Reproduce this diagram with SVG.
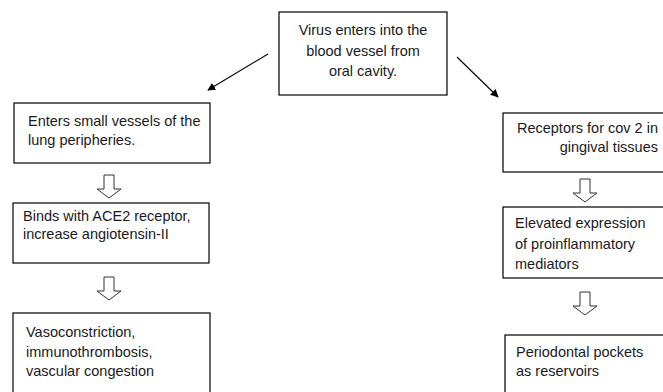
<svg xmlns="http://www.w3.org/2000/svg" width="663" height="392" viewBox="0 0 663 392">
<defs>
<style>
.box{fill:#fff;stroke:#000;stroke-width:1.2}
.t{font-family:"Liberation Sans",Arial,sans-serif;font-size:14.5px;fill:#1a1a22}
.c{text-anchor:middle}
.e{text-anchor:end}
.ln{stroke:#000;stroke-width:1.1;fill:none}
.ha{fill:#fff;stroke:#333;stroke-width:1}
</style>
<marker id="ah" viewBox="0 0 10 10" refX="9" refY="5" markerWidth="8" markerHeight="8" markerUnits="userSpaceOnUse" orient="auto"><path d="M0,0 L10,5 L0,10 z" fill="#000"/></marker>
<path id="hollow" d="M-5,0 L5,0 L5,14 L12,14 L0,23 L-12,14 L-5,14 Z"/>
</defs>
<rect width="663" height="392" fill="#fff"/>
<g id="connectors">
<line class="ln" x1="268" y1="54" x2="208" y2="90" marker-end="url(#ah)"/>
<line class="ln" x1="457" y1="57" x2="498" y2="97" marker-end="url(#ah)"/>
<use href="#hollow" class="ha" x="109" y="175"/>
<use href="#hollow" class="ha" x="109" y="277"/>
<use href="#hollow" class="ha" x="585" y="179"/>
<use href="#hollow" class="ha" x="585" y="292"/>
</g>
<g id="n_top">
<rect class="box" x="279" y="12" width="168" height="83"/>
<text class="t c" x="363" y="35">Virus enters into the</text>
<text class="t c" x="363" y="56">blood vessel from</text>
<text class="t c" x="363" y="76">oral cavity.</text>
</g>
<g id="n_l1">
<rect class="box" x="14" y="103" width="196" height="60"/>
<text class="t" x="28" y="126">Enters small vessels of the</text>
<text class="t" x="28" y="145">lung peripheries.</text>
</g>
<g id="n_l2">
<rect class="box" x="13" y="203" width="196" height="60"/>
<text class="t" x="23" y="221">Binds with ACE2 receptor,</text>
<text class="t" x="23" y="239">increase angiotensin-II</text>
</g>
<g id="n_l3">
<rect class="box" x="13" y="313" width="197" height="85"/>
<text class="t" x="26" y="337">Vasoconstriction,</text>
<text class="t" x="26" y="357">immunothrombosis,</text>
<text class="t" x="26" y="376">vascular congestion</text>
</g>
<g id="n_r1">
<rect class="box" x="503" y="113" width="170" height="59"/>
<text class="t e" x="658" y="133">Receptors for cov 2 in</text>
<text class="t e" x="658" y="152">gingival tissues</text>
</g>
<g id="n_r2">
<rect class="box" x="503" y="207" width="170" height="71"/>
<text class="t" x="515" y="228">Elevated expression</text>
<text class="t" x="515" y="249">of proinflammatory</text>
<text class="t" x="515" y="269">mediators</text>
</g>
<g id="n_r3">
<rect class="box" x="505" y="335" width="170" height="65"/>
<text class="t" x="516" y="357">Periodontal pockets</text>
<text class="t" x="516" y="376">as reservoirs</text>
</g>
</svg>
